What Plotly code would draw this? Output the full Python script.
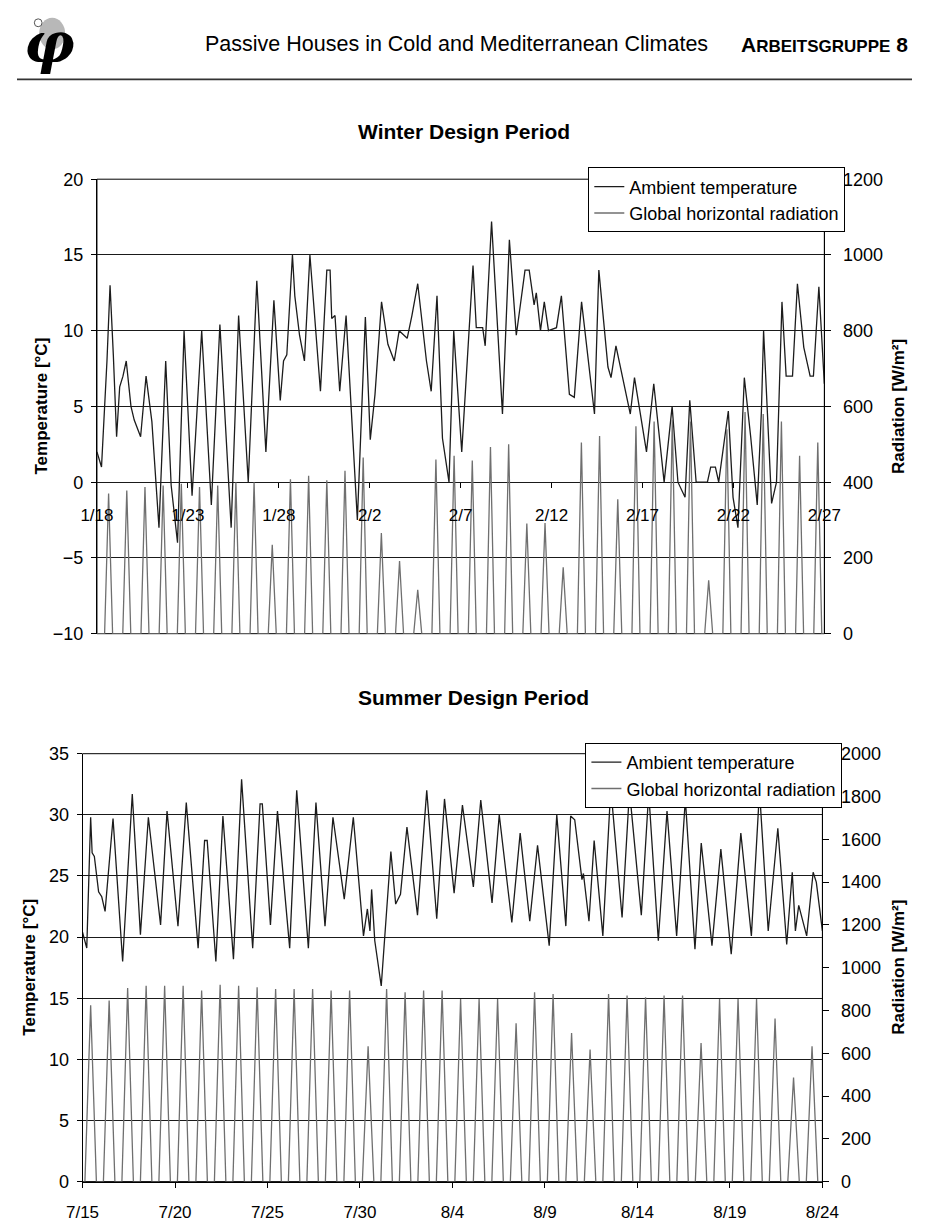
import plotly.graph_objects as go

# ---------------- data ----------------
WINTER_DATES = ["1/18", "1/23", "1/28", "2/2", "2/7", "2/12", "2/17", "2/22", "2/27"]
SUMMER_DATES = ["7/15", "7/20", "7/25", "7/30", "8/4", "8/9", "8/14", "8/19", "8/24"]
DATE_TICKS = [0, 5, 10, 15, 20, 25, 30, 35, 40]   # days since first date

# Ambient temperature, winter: (day, °C) turning points
WINTER_TEMP = [
    (0.00, 2.0), (0.25, 1.0), (0.55, 8.0), (0.72, 13.0), (0.90, 8.4), (1.08, 3.0), (1.25, 6.3),
    (1.43, 7.0), (1.61, 8.0), (1.87, 5.0), (2.05, 4.1), (2.40, 3.0), (2.70, 7.0), (3.02, 4.0),
    (3.41, -3.0), (3.78, 8.0), (4.08, -0.2), (4.43, -4.0), (4.79, 10.0), (5.23, -0.9), (5.76, 10.0),
    (6.29, -1.5), (6.76, 10.4), (7.38, -3.0), (7.79, 11.0), (8.32, 0.0), (8.79, 13.3), (9.29, 2.0),
    (9.73, 12.0), (10.08, 5.4), (10.26, 8.0), (10.44, 8.4), (10.75, 15.0), (10.88, 12.3), (11.14, 9.7),
    (11.41, 8.0), (11.71, 15.0), (12.29, 6.0), (12.64, 14.0), (12.82, 14.0), (12.91, 10.8), (13.09, 11.0),
    (13.35, 6.0), (13.70, 11.0), (14.32, -2.5), (14.76, 10.9), (15.03, 2.8), (15.29, 5.8), (15.65, 11.9),
    (16.00, 9.1), (16.35, 8.0), (16.62, 10.0), (17.06, 9.5), (17.32, 11.0), (17.64, 13.1), (18.12, 8.0),
    (18.38, 6.0), (18.70, 12.3), (19.00, 2.9), (19.36, 0.0), (19.62, 10.0), (20.06, 2.0), (20.68, 14.3),
    (20.86, 10.2), (21.21, 10.2), (21.35, 9.0), (21.70, 17.2), (22.30, 4.5), (22.68, 16.0), (23.06, 9.7),
    (23.54, 14.0), (23.77, 14.0), (24.04, 11.7), (24.16, 12.5), (24.39, 10.0), (24.60, 11.9), (24.83, 10.0),
    (25.27, 10.2), (25.54, 12.3), (25.98, 5.8), (26.25, 5.6), (26.65, 11.9), (27.36, 4.5), (27.60, 14.0),
    (28.10, 7.6), (28.27, 6.9), (28.54, 9.0), (29.33, 4.5), (29.56, 6.9), (30.22, 2.0), (30.62, 6.5),
    (31.19, 0.0), (31.63, 5.0), (31.95, 0.0), (32.34, -1.0), (32.60, 5.4), (32.95, 0.0), (33.57, 0.0),
    (33.75, 1.0), (34.01, 1.0), (34.19, 0.0), (34.72, 4.7), (34.98, -1.0), (35.25, -3.0), (35.60, 6.9),
    (35.95, 3.0), (36.31, -1.5), (36.54, 4.7), (36.66, 10.0), (37.10, -1.4), (37.37, 0.0), (37.67, 11.9),
    (37.90, 7.0), (38.25, 7.0), (38.52, 13.1), (38.87, 8.9), (39.22, 7.0), (39.40, 7.0), (39.70, 12.9),
    (40.00, 6.5),
]

# Ambient temperature, summer: (day, °C)
SUMMER_TEMP = [
    (0.00, 20.4), (0.23, 19.1), (0.44, 29.8), (0.52, 26.9), (0.64, 26.6), (0.87, 23.7), (1.04, 23.3),
    (1.22, 22.1), (1.65, 29.7), (2.17, 18.0), (2.69, 31.7), (3.13, 20.2), (3.56, 29.8), (4.22, 21.0),
    (4.57, 30.3), (5.16, 20.9), (5.61, 31.0), (6.25, 19.1), (6.60, 27.9), (6.74, 27.9), (7.21, 18.0),
    (7.59, 29.9), (8.16, 18.2), (8.60, 32.9), (9.20, 19.1), (9.60, 30.9), (9.72, 30.9), (10.16, 21.0),
    (10.54, 30.3), (11.20, 19.1), (11.58, 32.0), (12.21, 19.1), (12.62, 31.0), (13.11, 20.9), (13.54, 29.8),
    (14.15, 23.1), (14.64, 29.8), (15.07, 22.1), (15.19, 20.1), (15.40, 22.3), (15.54, 20.5), (15.63, 23.9),
    (15.80, 19.7), (16.15, 16.0), (16.32, 19.9), (16.67, 27.0), (16.93, 22.7), (17.19, 23.5), (17.54, 29.0),
    (18.11, 21.8), (18.61, 32.0), (19.15, 21.5), (19.57, 31.3), (20.09, 23.6), (20.54, 30.8), (21.13, 24.1),
    (21.53, 31.2), (22.14, 22.8), (22.53, 30.0), (23.21, 21.2), (23.66, 28.5), (24.18, 21.3), (24.60, 27.5),
    (25.23, 19.3), (25.64, 30.0), (26.13, 20.9), (26.39, 29.9), (26.61, 29.6), (27.00, 24.7), (27.08, 25.2),
    (27.38, 21.3), (27.66, 27.9), (28.13, 20.1), (28.56, 32.2), (29.17, 21.6), (29.57, 32.0), (30.21, 21.8),
    (30.61, 31.8), (31.13, 19.7), (31.60, 30.3), (32.12, 20.1), (32.59, 31.3), (33.11, 19.0), (33.45, 27.7),
    (34.03, 19.3), (34.51, 27.2), (35.07, 18.6), (35.59, 28.5), (36.16, 20.1), (36.60, 32.0), (37.07, 20.5),
    (37.59, 28.9), (38.07, 19.4), (38.37, 25.3), (38.54, 20.5), (38.72, 22.6), (39.15, 20.1), (39.50, 25.3),
    (39.67, 24.5), (40.00, 20.5),
]

# Daily peak global horizontal radiation [W/m²], one value per day
WINTER_RAD_PEAK = [370, 378, 387, 391, 396, 387, 391, 400, 400, 235,
                   408, 417, 405, 430, 465, 266, 192, 116, 460, 470,
                   457, 493, 500, 291, 292, 175, 505, 522, 355, 548,
                   560, 565, 560, 141, 540, 585, 580, 560, 470, 505]
SUMMER_RAD_PEAK = [824, 847, 905, 915, 915, 915, 893, 920, 915, 908,
                   900, 900, 900, 893, 893, 632, 900, 885, 893, 893,
                   854, 854, 854, 740, 885, 877, 694, 617, 877, 870,
                   862, 870, 870, 648, 854, 854, 854, 762, 487, 632]

# time of day (fraction of a day) of sunrise, radiation peak and sunset
WINTER_SUN = (0.42, 0.64, 0.86)
SUMMER_SUN = (0.13, 0.44, 0.75)

# ---------------- helpers ----------------
W, H = 929, 1229
def fx(px):
    return px / W
def fy(py):
    return 1 - py / H

def spikes(peaks, sun):
    xs, ys = [0.0], [0.0]
    for d, p in enumerate(peaks):
        xs += [d + sun[0], d + sun[1], d + sun[2]]
        ys += [0.0, p, 0.0]
    xs.append(float(len(peaks)))
    ys.append(0.0)
    return xs, ys

TEMP_COLOR = "#1c1c1c"
RAD_COLOR = "#6f6f6f"
GRID = "#1a1a1a"
FONT = "Liberation Sans, Arial, sans-serif"

fig = go.Figure()

wrx, wry = spikes(WINTER_RAD_PEAK, WINTER_SUN)
srx, sry = spikes(SUMMER_RAD_PEAK, SUMMER_SUN)

fig.add_trace(go.Scatter(x=wrx, y=wry, mode="lines", name="Global horizontal radiation",
                         line=dict(color=RAD_COLOR, width=1.3), xaxis="x", yaxis="y2",
                         legend="legend", legendrank=2))
fig.add_trace(go.Scatter(x=[p[0] for p in WINTER_TEMP], y=[p[1] for p in WINTER_TEMP], mode="lines",
                         name="Ambient temperature", line=dict(color=TEMP_COLOR, width=1.3),
                         xaxis="x", yaxis="y", legend="legend", legendrank=1))
fig.add_trace(go.Scatter(x=srx, y=sry, mode="lines", name="Global horizontal radiation",
                         line=dict(color=RAD_COLOR, width=1.3), xaxis="x2", yaxis="y4",
                         legend="legend2", legendrank=2))
fig.add_trace(go.Scatter(x=[p[0] for p in SUMMER_TEMP], y=[p[1] for p in SUMMER_TEMP], mode="lines",
                         name="Ambient temperature", line=dict(color=TEMP_COLOR, width=1.3),
                         xaxis="x2", yaxis="y3", legend="legend2", legendrank=1))

# plot-area domains (pixel positions measured on the reference)
wy_dom = [fy(634), fy(172)]
sy_dom = [fy(1191), fy(756)]
w_zero = wy_dom[0] + (wy_dom[1] - wy_dom[0]) * (10 / 30)

tickfont = dict(family=FONT, size=18, color="black")
datefont = dict(family=FONT, size=17, color="black")

common_y = dict(showgrid=True, gridcolor=GRID, gridwidth=1, showline=True, linecolor="black",
                linewidth=1, ticks="outside", ticklen=5, tickcolor="black", zeroline=False,
                tickfont=tickfont, ticklabelstandoff=4)
right_y = dict(showgrid=False, showline=True, linecolor="black", linewidth=1, ticks="outside",
               ticklen=6, tickcolor="black", zeroline=False, tickfont=tickfont, side="right",
               ticklabelstandoff=8)

fig.update_layout(
    width=W, height=H, margin=dict(l=0, r=0, t=0, b=0),
    paper_bgcolor="white", plot_bgcolor="rgba(0,0,0,0)",
    font=dict(family=FONT, color="black"),
    xaxis=dict(domain=[fx(83), fx(838)], range=[0, 40], anchor="free", position=w_zero,
               tickvals=DATE_TICKS, ticktext=WINTER_DATES, ticks="outside", ticklen=5,
               tickcolor="black", showgrid=False, showline=False, zeroline=False,
               tickfont=datefont, ticklabelstandoff=12),
    yaxis=dict(domain=wy_dom, range=[-10, 20], tick0=-10, dtick=5, anchor="x", **common_y),
    yaxis2=dict(overlaying="y", range=[0, 1200], tick0=0, dtick=200, anchor="x", **right_y),
    xaxis2=dict(domain=[fx(68), fx(836)], range=[0, 40], anchor="y3",
                tickvals=DATE_TICKS, ticktext=SUMMER_DATES, ticks="outside", ticklen=5,
                tickcolor="black", showgrid=False, showline=True, linecolor="black",
                zeroline=False, tickfont=datefont, ticklabelstandoff=10),
    yaxis3=dict(domain=sy_dom, range=[0, 35], tick0=0, dtick=5, anchor="x2", **common_y),
    yaxis4=dict(overlaying="y3", range=[0, 2000], tick0=0, dtick=200, anchor="x2", **right_y),
    legend=dict(x=fx(593), y=fy(160), xanchor="left", yanchor="top", bgcolor="white",
                bordercolor="black", borderwidth=1, font=dict(family=FONT, size=18),
                tracegroupgap=0, itemwidth=30),
    legend2=dict(x=fx(590), y=fy(745), xanchor="left", yanchor="top", bgcolor="white",
                 bordercolor="black", borderwidth=1, font=dict(family=FONT, size=18),
                 tracegroupgap=0, itemwidth=30),
    showlegend=True,
)

shapes = [
    # plot frames
    dict(type="rect", xref="x domain", yref="y domain", x0=0, x1=1, y0=0, y1=1,
         line=dict(color="black", width=1), layer="below"),
    dict(type="rect", xref="x2 domain", yref="y3 domain", x0=0, x1=1, y0=0, y1=1,
         line=dict(color="black", width=1), layer="below"),
    # header rule
    dict(type="line", xref="paper", yref="paper", x0=0, x1=1, y0=fy(70.5), y1=fy(70.5),
         line=dict(color="#333333", width=1.6)),
    # logo
    dict(type="circle", xref="paper", yref="paper", x0=fx(23), x1=fx(50), y0=fy(40), y1=fy(8),
         fillcolor="#b8b8b8", line=dict(width=0), layer="below"),
    dict(type="circle", xref="paper", yref="paper", x0=fx(18), x1=fx(26), y0=fy(17), y1=fy(9),
         fillcolor="white", line=dict(color="#555555", width=1)),
]
fig.update_layout(shapes=shapes)

ann = []
ann.append(dict(text="<b><i>φ</i></b>", x=fx(34), y=fy(33), xref="paper", yref="paper",
                showarrow=False, font=dict(family="DejaVu Serif", size=56, color="black"),
                xanchor="center", yanchor="middle"))
ann.append(dict(text="Passive Houses in Cold and Mediterranean Climates", x=fx(193), y=fy(35),
                xref="paper", yref="paper", showarrow=False, xanchor="left", yanchor="middle",
                font=dict(family=FONT, size=21.5, color="black")))
ann.append(dict(text="<b>A<span style='font-size:17px'>RBEITSGRUPPE</span> 8</b>", x=fx(927), y=fy(35),
                xref="paper", yref="paper", showarrow=False, xanchor="right", yanchor="middle",
                font=dict(family=FONT, size=21, color="black")))
ann.append(dict(text="<b>Winter Design Period</b>", x=fx(352), y=fy(124), xref="paper", yref="paper",
                showarrow=False, xanchor="left", yanchor="middle",
                font=dict(family=FONT, size=21, color="black")))
ann.append(dict(text="<b>Summer Design Period</b>", x=fx(596), y=fy(699), xref="paper", yref="paper",
                showarrow=False, xanchor="right", yanchor="middle",
                font=dict(family=FONT, size=21, color="black")))
for ycen, xl in ((403, 25), (973, 13)):
    ann.append(dict(text="<b>Temperature [°C]</b>", x=fx(xl), y=fy(ycen), xref="paper", yref="paper",
                    showarrow=False, textangle=-90, xanchor="center", yanchor="middle",
                    font=dict(family=FONT, size=17, color="black")))
    ann.append(dict(text="<b>Radiation [W/m²]</b>", x=fx(915), y=fy(ycen), xref="paper", yref="paper",
                    showarrow=False, textangle=-90, xanchor="center", yanchor="middle",
                    font=dict(family=FONT, size=17, color="black")))
fig.update_layout(annotations=ann)

# remove the browser's default 8px page margin so the figure sits at the page origin
fig.write_html("out.html", config={"displayModeBar": False},
               post_script="document.body.style.margin='0';")
